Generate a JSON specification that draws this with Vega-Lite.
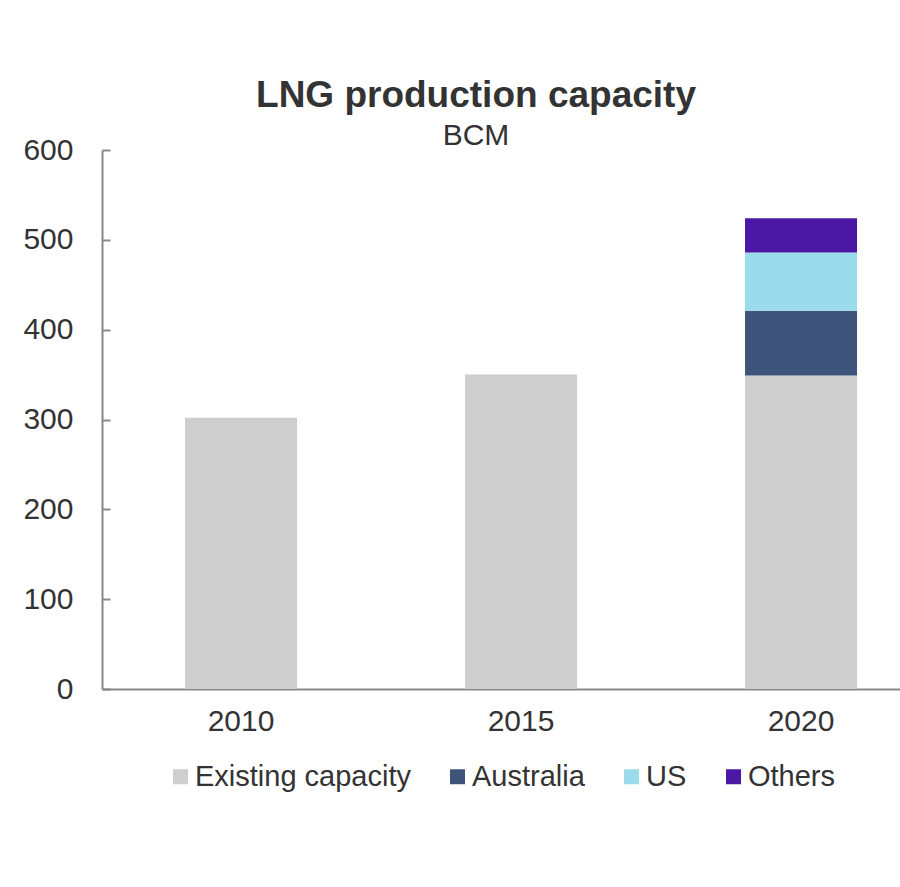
{
  "$schema": "https://vega.github.io/schema/vega-lite/v6.json",
  "autosize": {"type": "none"},
  "padding": {"left": 102, "top": 150, "right": 0, "bottom": 198},
  "width": 798,
  "height": 539,
  "background": "white",
  "title": {
    "text": "LNG production capacity",
    "subtitle": "BCM",
    "anchor": "middle",
    "frame": "group",
    "dx": -25,
    "offset": -17,
    "font": "Liberation Sans",
    "fontSize": 37,
    "fontWeight": "bold",
    "color": "#333333",
    "subtitleFont": "Liberation Sans",
    "subtitleFontSize": 30,
    "subtitleColor": "#333333",
    "subtitlePadding": 6
  },
  "data": {
    "values": [
      {"year": "2010", "category": "Existing capacity", "rank": 1, "value": 302},
      {"year": "2015", "category": "Existing capacity", "rank": 1, "value": 350},
      {"year": "2020", "category": "Existing capacity", "rank": 1, "value": 349},
      {"year": "2020", "category": "Australia", "rank": 2, "value": 72},
      {"year": "2020", "category": "US", "rank": 3, "value": 65},
      {"year": "2020", "category": "Others", "rank": 4, "value": 38}
    ]
  },
  "mark": {"type": "bar"},
  "encoding": {
    "x": {
      "field": "year",
      "type": "nominal",
      "title": null,
      "scale": {"paddingInner": 0.6, "paddingOuter": 0.225, "align": 0.659},
      "axis": {
        "labelAngle": 0,
        "ticks": false,
        "domainColor": "#888888",
        "domainWidth": 2,
        "labelFont": "Liberation Sans",
        "labelFontSize": 30,
        "labelColor": "#333333",
        "labelPadding": 17
      }
    },
    "y": {
      "field": "value",
      "type": "quantitative",
      "stack": "zero",
      "title": null,
      "scale": {"domain": [0, 600], "nice": false},
      "axis": {
        "values": [0, 100, 200, 300, 400, 500, 600],
        "grid": false,
        "domainColor": "#888888",
        "domainWidth": 2,
        "tickColor": "#888888",
        "tickWidth": 2,
        "tickSize": -8,
        "labelPadding": 37,
        "labelFont": "Liberation Sans",
        "labelFontSize": 30,
        "labelColor": "#333333"
      }
    },
    "order": {"field": "rank", "type": "quantitative", "sort": "ascending"},
    "color": {
      "field": "category",
      "type": "nominal",
      "scale": {
        "domain": ["Existing capacity", "Australia", "US", "Others"],
        "range": ["#CECECE", "#3F547B", "#9ADCEB", "#4B18A6"]
      },
      "legend": {
        "title": null,
        "orient": "bottom",
        "direction": "horizontal",
        "symbolType": "square",
        "symbolSize": 225,
        "symbolStrokeWidth": 0,
        "labelFont": "Liberation Sans",
        "labelFontSize": 29,
        "labelColor": "#333333",
        "labelLimit": 400,
        "labelOffset": 0,
        "columnPadding": 32,
        "offset": 26
      }
    }
  },
  "config": {
    "view": {"stroke": null},
    "legend": {"layout": {"bottom": {"anchor": "middle"}}}
  }
}
